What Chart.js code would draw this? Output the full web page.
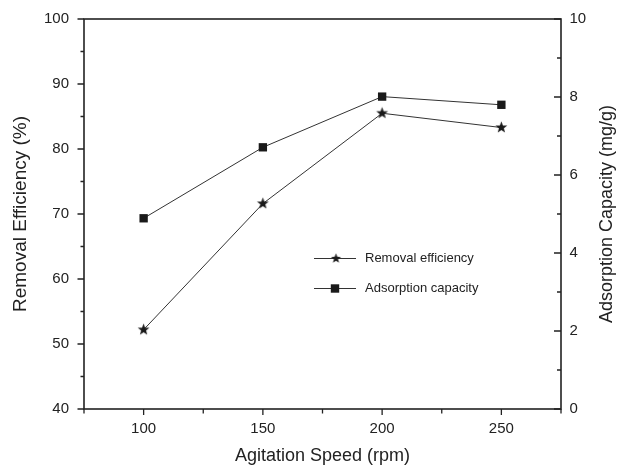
<!DOCTYPE html>
<html>
<head>
<meta charset="utf-8">
<style>
  html, body { margin: 0; padding: 0; background: #fff; }
  #wrap { width: 617px; height: 465px; }
</style>
<script src="https://cdn.jsdelivr.net/npm/chart.js@4/dist/chart.umd.min.js"></script>
</head>
<body>
<div id="wrap"><canvas id="grafico" width="617" height="465"></canvas></div>
<script>
// Datos
const velocidades = [100, 150, 200, 250];
const eficiencia = [52.2, 71.6, 85.5, 83.3];
const capacidad = [4.89, 6.71, 8.01, 7.80];

// Marcas de los ejes
const ticksX = [100, 150, 200, 250];
const ticksIzq = [40, 50, 60, 70, 80, 90, 100];
const ticksDer = [0, 2, 4, 6, 8, 10];

const FUENTE = 'Liberation Sans, Arial, sans-serif';
const TINTA = '#222';

// Estrella rellena para los puntos (Chart.js solo tiene la estrella de líneas)
function hacerEstrella(r, color) {
  const c = document.createElement('canvas');
  const s = Math.ceil(r * 2 + 2);
  c.width = s; c.height = s;
  const g = c.getContext('2d');
  g.translate(s / 2, s / 2);
  g.beginPath();
  for (let i = 0; i < 10; i++) {
    const rad = i % 2 === 0 ? r : r * 0.42;
    const a = -Math.PI / 2 + i * Math.PI / 5;
    g.lineTo(Math.cos(a) * rad, Math.sin(a) * rad);
  }
  g.closePath();
  g.fillStyle = color;
  g.fill();
  return c;
}
const estrella = hacerEstrella(6.2, '#1a1a1a');
const estrellaChica = hacerEstrella(5.2, '#1a1a1a');

// Marco, marcas menores, título derecho y leyenda
const marcoPlugin = {
  id: 'marco',
  afterDraw(chart) {
    const ctx = chart.ctx;
    const a = chart.chartArea;
    const sx = chart.scales.x, sy = chart.scales.y, sy1 = chart.scales.y1;
    ctx.save();
    ctx.strokeStyle = TINTA;
    ctx.lineWidth = 1.6;
    ctx.strokeRect(a.left, a.top, a.right - a.left, a.bottom - a.top);

    ctx.lineWidth = 1.3;
    ctx.beginPath();
    for (let v = sy.min; v <= sy.max; v += 5) {
      const y = sy.getPixelForValue(v);
      const len = v % 10 === 0 ? 6.5 : 3.5;
      ctx.moveTo(a.left - len, y); ctx.lineTo(a.left, y);
    }
    for (let v = sy1.min; v <= sy1.max; v += 1) {
      const y = sy1.getPixelForValue(v);
      const len = v % 2 === 0 ? 7 : 4;
      ctx.moveTo(a.right - len, y); ctx.lineTo(a.right, y);
    }
    for (let v = sx.min; v <= sx.max; v += 25) {
      const x = sx.getPixelForValue(v);
      const len = v % 50 === 0 ? 6 : 4.5;
      ctx.moveTo(x, a.bottom); ctx.lineTo(x, a.bottom + len);
    }
    ctx.stroke();

    // título del eje derecho, leído de abajo hacia arriba
    ctx.fillStyle = TINTA;
    ctx.font = '18px ' + FUENTE;
    ctx.textAlign = 'center';
    ctx.textBaseline = 'middle';
    ctx.translate(607, (a.top + a.bottom) / 2);
    ctx.rotate(-Math.PI / 2);
    ctx.fillText('Adsorption Capacity (mg/g)', 0, 0);
    ctx.restore();

    // leyenda dentro del área
    ctx.save();
    const filas = [
      { texto: 'Removal efficiency', marca: estrellaChica, y: 258.5 },
      { texto: 'Adsorption capacity', marca: 'rect', y: 288.5 }
    ];
    ctx.font = '13px ' + FUENTE;
    ctx.textBaseline = 'middle';
    ctx.fillStyle = TINTA;
    filas.forEach(f => {
      ctx.strokeStyle = '#333';
      ctx.lineWidth = 1;
      ctx.beginPath();
      ctx.moveTo(314, f.y); ctx.lineTo(356, f.y);
      ctx.stroke();
      if (f.marca === 'rect') {
        ctx.fillStyle = '#1a1a1a';
        ctx.fillRect(335 - 4.2, f.y - 4.2, 8.4, 8.4);
      } else {
        ctx.drawImage(f.marca, 336 - f.marca.width / 2, f.y - f.marca.height / 2);
      }
      ctx.fillStyle = TINTA;
      ctx.fillText(f.texto, 365, f.y);
    });
    ctx.restore();
  }
};

// Sin relleno extra arriba/abajo para que el área quede fija
function ajustarVertical(ancho) {
  return s => {
    s.width = ancho;
    s.paddingTop = 0;
    s.paddingBottom = 0;
  };
}

const ctx = document.getElementById('grafico').getContext('2d');
new Chart(ctx, {
  type: 'line',
  data: {
    datasets: [
      {
        label: 'Removal efficiency',
        data: velocidades.map((v, i) => ({ x: v, y: eficiencia[i] })),
        yAxisID: 'y',
        borderColor: '#333',
        borderWidth: 1,
        pointStyle: estrella,
        pointRadius: 6,
        tension: 0
      },
      {
        label: 'Adsorption capacity',
        data: velocidades.map((v, i) => ({ x: v, y: capacidad[i] })),
        yAxisID: 'y1',
        borderColor: '#333',
        borderWidth: 1,
        pointStyle: 'rect',
        pointRadius: 5.9,
        pointBackgroundColor: '#1a1a1a',
        pointBorderColor: '#1a1a1a',
        pointBorderWidth: 0,
        tension: 0
      }
    ]
  },
  options: {
    responsive: false,
    animation: false,
    layout: { padding: { top: 19, left: 0, right: 0, bottom: 0 } },
    plugins: {
      legend: { display: false },
      tooltip: { enabled: false }
    },
    scales: {
      x: {
        type: 'linear',
        position: 'bottom',
        min: 75,
        max: 275,
        afterBuildTicks: s => { s.ticks = ticksX.map(v => ({ value: v })); },
        afterFit: s => { s.height = 56; s.paddingLeft = 0; s.paddingRight = 0; },
        grid: { display: false, drawTicks: false },
        border: { display: false },
        ticks: { padding: 11, color: TINTA, font: { family: FUENTE, size: 15 } },
        title: {
          display: true,
          text: 'Agitation Speed (rpm)',
          color: TINTA,
          padding: { top: 0, bottom: 0 },
          font: { family: FUENTE, size: 18, lineHeight: 1 }
        }
      },
      y: {
        position: 'left',
        min: 40,
        max: 100,
        afterBuildTicks: s => { s.ticks = ticksIzq.map(v => ({ value: v })); },
        afterFit: ajustarVertical(84),
        grid: { display: false, drawTicks: false },
        border: { display: false },
        ticks: { padding: 15, color: TINTA, font: { family: FUENTE, size: 15 } },
        title: {
          display: true,
          text: 'Removal Efficiency (%)',
          color: TINTA,
          padding: { top: 11, bottom: 0 },
          font: { family: FUENTE, size: 19, lineHeight: 1 }
        }
      },
      y1: {
        position: 'right',
        min: 0,
        max: 10,
        afterBuildTicks: s => { s.ticks = ticksDer.map(v => ({ value: v })); },
        afterFit: ajustarVertical(56),
        grid: { display: false, drawTicks: false },
        border: { display: false },
        ticks: { padding: 8.5, color: TINTA, font: { family: FUENTE, size: 15 } }
      }
    }
  },
  plugins: [marcoPlugin]
});
</script>
</body>
</html>
